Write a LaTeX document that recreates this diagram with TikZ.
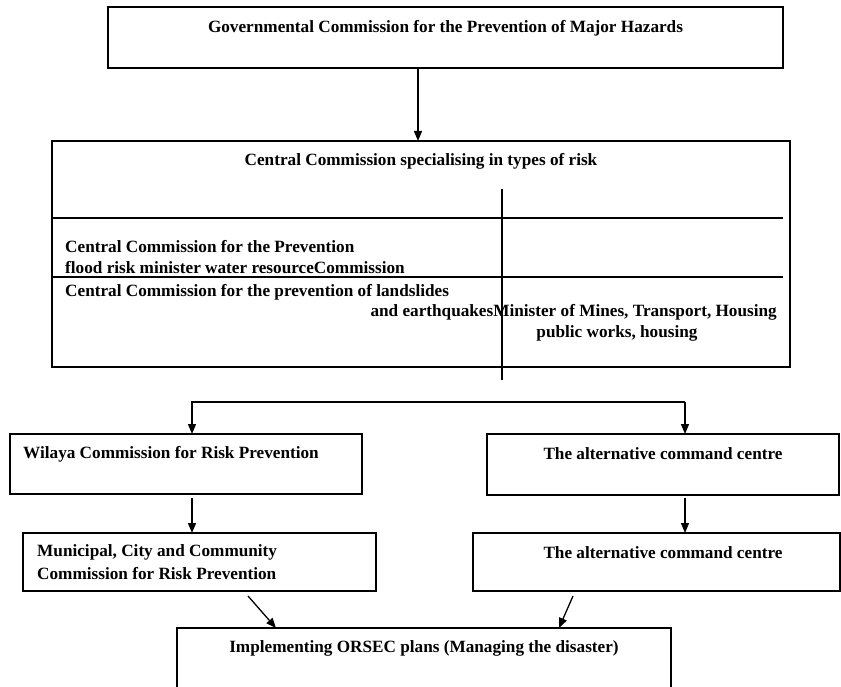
\documentclass[tikz,border=0pt]{standalone}
\usepackage{fontspec}
\setmainfont{Liberation Serif}
\usetikzlibrary{arrows.meta}
\begin{document}
\begin{tikzpicture}[x=1pt,y=-1pt,
 box/.style={draw,line width=1.4pt,inner sep=0pt,outer sep=0pt},
 lbl/.style={font=\bfseries\fontsize{17.2}{20}\selectfont,inner sep=0pt},
 arr/.style={line width=1.3pt,-{Triangle[length=10pt,width=8pt]}},
 rule/.style={line width=1.4pt}]
\useasboundingbox (0,0) rectangle (841,687);
\clip (0,0) rectangle (841,687);
% boxes
\node[box,minimum width=675pt,minimum height=61pt] (gov) at (445.5,37.5) {};
\node[box,minimum width=738pt,minimum height=226pt] (cen) at (421,254) {};
\node[box,minimum width=352pt,minimum height=60pt] (wil) at (186,464) {};
\node[box,minimum width=352pt,minimum height=61pt] (alta) at (663,464.5) {};
\node[box,minimum width=353pt,minimum height=58pt] (mun) at (199.5,562) {};
\node[box,minimum width=367pt,minimum height=58pt] (altb) at (656.5,562) {};
\node[box,minimum width=494pt,minimum height=72pt] (impl) at (424,664) {};
% inner rules of the central box
\coordinate (r1l) at (52,218); \coordinate (r1r) at (783,218);
\coordinate (r2l) at (52,277); \coordinate (r2r) at (783,277);
\coordinate (vt) at (502,189); \coordinate (vb) at (502,380);
\draw[rule] (r1l) -- (r1r);
\draw[rule] (r2l) -- (r2r);
\draw[rule] (vt) -- (vb);
% texts
\node[lbl] (tgov) at (445.5,28) {Governmental Commission for the Prevention of Major Hazards};
\node[lbl] (tcen) at (421,161) {Central Commission specialising in types of risk};
\node[lbl,anchor=west] (tc1) at (65,247) {Central Commission for the Prevention};
\node[lbl,anchor=west] (tc2) at (65,268) {flood risk minister water resourceCommission};
\node[lbl,anchor=west] (tc3) at (65,292) {Central Commission for the prevention of landslides};
\node[lbl,anchor=east] (tc4) at (777,312) {and earthquakesMinister of Mines, Transport, Housing};
\node[lbl] (tc5) at (617,333) {public works, housing};
\node[lbl,anchor=west] (twil) at (23,454) {Wilaya Commission for Risk Prevention};
\node[lbl] (talta) at (663,454) {The alternative command centre};
\node[lbl,anchor=west,align=left,font=\bfseries\fontsize{17.2}{23}\selectfont] (tmun) at (37,562.5) {Municipal, City and Community\\Commission for Risk Prevention};
\node[lbl] (taltb) at (663,553) {The alternative command centre};
\node[lbl] (timpl) at (424,648) {Implementing ORSEC plans (Managing the disaster)};
% connectors
\coordinate (ka) at (418,0);
\draw[arr] (gov.south -| ka) -- (cen.north -| ka);
\coordinate (kl) at (192,402);
\coordinate (kr) at (685,402);
\draw[arr] (kr) -| (alta.north -| kr);
\draw[arr] (kr) -- (kl) -- (wil.north -| kl);
\coordinate (wl) at (192,498);
\coordinate (wr) at (685,498);
\draw[arr] (wl) -- (mun.north -| wl);
\draw[arr] (wr) -- (altb.north -| wr);
\coordinate (ml) at (248,596);
\coordinate (il) at (276,628);
\coordinate (mr) at (573,596);
\coordinate (ir) at (559,628);
\draw[arr] (ml) -- (il);
\draw[arr] (mr) -- (ir);
\end{tikzpicture}
\end{document}
